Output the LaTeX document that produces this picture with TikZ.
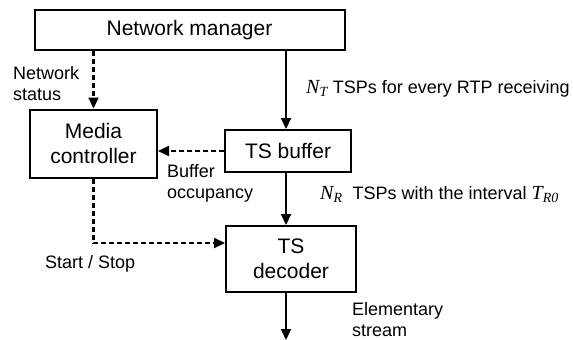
\documentclass[tikz,border=0pt]{standalone}
\usepackage{fontspec}
\setmainfont{Liberation Sans}
\newfontfamily\varfont{Liberation Serif}
\usetikzlibrary{arrows.meta}
% italic variable names set in a serif face
\newcommand{\varname}[2]{{\varfont\itshape\fontsize{20}{21}\selectfont #1\textsubscript{#2}}}
\begin{document}
\begin{tikzpicture}[x=1pt,y=-1pt,
  blk/.style={draw, line width=2pt, inner sep=0pt, align=center,
    font=\fontsize{21}{25}\selectfont},
  lbl/.style={inner sep=0pt, align=left, font=\fontsize{18}{21}\selectfont},
  flow/.style={line width=2.1pt, -{Triangle[length=11pt,width=10pt]}},
  ctrl/.style={flow, dash pattern=on 5pt off 3pt}]
\useasboundingbox (0,0) rectangle (573,340);

% blocks
\node[blk, minimum width=310pt, minimum height=40pt] (nm) at (189.5,30) {Network manager};
\node[blk, minimum width=127pt, minimum height=68pt] (mc) at (93.5,143.5) {Media\\controller};
\node[blk, minimum width=126pt, minimum height=42pt] (tb) at (288,151) {TS buffer};
\node[blk, minimum width=130pt, minimum height=66pt] (td) at (291,259) {TS\\decoder};

% data path column and stream output
\coordinate (xa) at (286,0);
\coordinate (out) at (286,340);

% data flow
\draw[flow] (nm.south -| xa) -- (tb.north -| xa);
\draw[flow] (tb.south -| xa) -- (td.north -| xa);
\draw[flow] (td.south -| xa) -- (out);

% control flow
\draw[ctrl] (nm.south -| mc.north) -- (mc.north);
\draw[ctrl] (tb.west) -- (tb.west -| mc.east);
\draw[ctrl] (mc.south) |- ([yshift=16pt]td.west);

% labels
\node[lbl, anchor=north west] (lns) at (13,66) {Network\\status};
\node[lbl, anchor=north west] (lbo) at (167,164) {Buffer\\occupancy};
\node[lbl, anchor=base west] (lss) at (45,268) {Start / Stop};
\node[lbl, anchor=base west] (lnt) at (306,93) {\varname{N}{T} TSPs for every RTP receiving};
\node[lbl, anchor=base west] (lnr) at (320,199) {\varname{N}{R}\ \ TSPs with the interval \varname{T}{R0}};
\node[lbl, anchor=north west] (les) at (352,302) {Elementary\\stream};
\end{tikzpicture}
\end{document}
